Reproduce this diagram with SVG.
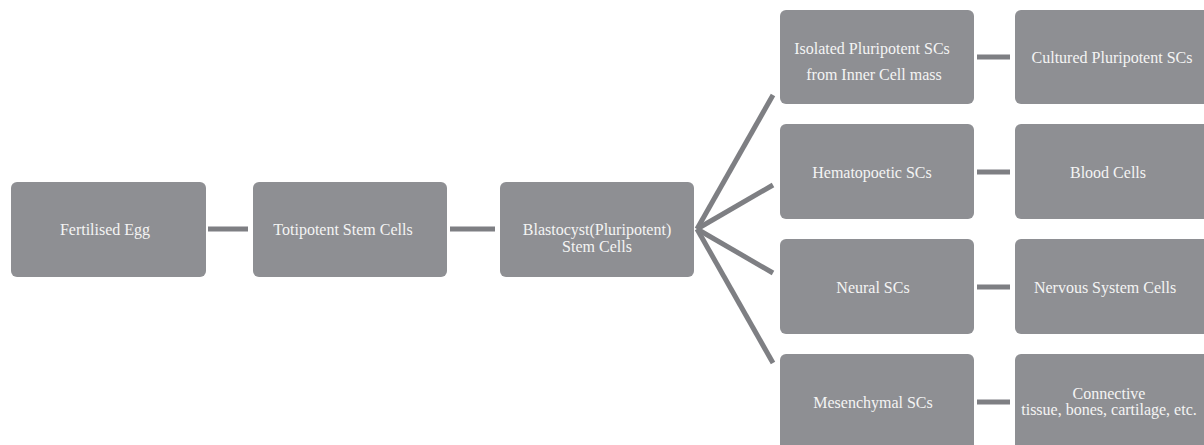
<svg xmlns="http://www.w3.org/2000/svg" width="1204" height="445" viewBox="0 0 1204 445">
<style>
.box{fill:#8e8f93;}
.t{fill:#f4f4f4;font-family:"Liberation Serif","DejaVu Serif",serif;font-size:16px;text-anchor:middle;}
.c{stroke:#7e7f83;stroke-width:5;fill:none;}
</style>
<rect width="1204" height="445" fill="#ffffff"/>
<g id="connectors">
<line class="c" x1="208" y1="229" x2="248" y2="229"/>
<line class="c" x1="450" y1="229" x2="495" y2="229"/>
<line class="c" x1="697" y1="229" x2="773" y2="95"/>
<line class="c" x1="697" y1="229" x2="773" y2="185"/>
<line class="c" x1="697" y1="229" x2="773" y2="273"/>
<line class="c" x1="697" y1="229" x2="773" y2="363"/>
<line class="c" x1="977" y1="57" x2="1010" y2="57"/>
<line class="c" x1="977" y1="172" x2="1010" y2="172"/>
<line class="c" x1="977" y1="287" x2="1010" y2="287"/>
<line class="c" x1="977" y1="402" x2="1010" y2="402"/>
</g>
<g id="fertilised-egg"><rect class="box" x="11" y="182" width="195" height="95" rx="6"/><text class="t" x="105" y="235">Fertilised Egg</text></g>
<g id="totipotent"><rect class="box" x="253" y="182" width="194" height="95" rx="6"/><text class="t" x="343" y="235">Totipotent Stem Cells</text></g>
<g id="blastocyst"><rect class="box" x="500" y="182" width="194" height="95" rx="6"/><text class="t" x="597" y="235">Blastocyst(Pluripotent)</text><text class="t" x="597" y="252">Stem Cells</text></g>
<g id="isolated"><rect class="box" x="780" y="10" width="194" height="94" rx="6"/><text class="t" x="872" y="54">Isolated Pluripotent SCs</text><text class="t" x="874" y="80">from Inner Cell mass</text></g>
<g id="cultured"><rect class="box" x="1015" y="10" width="195" height="94" rx="6"/><text class="t" x="1112" y="63">Cultured Pluripotent SCs</text></g>
<g id="hematopoetic"><rect class="box" x="780" y="124" width="194" height="95" rx="6"/><text class="t" x="872" y="178">Hematopoetic SCs</text></g>
<g id="blood"><rect class="box" x="1015" y="124" width="195" height="95" rx="6"/><text class="t" x="1108" y="178">Blood Cells</text></g>
<g id="neural"><rect class="box" x="780" y="239" width="194" height="95" rx="6"/><text class="t" x="873" y="293">Neural SCs</text></g>
<g id="nervous"><rect class="box" x="1015" y="239" width="195" height="95" rx="6"/><text class="t" x="1105" y="293">Nervous System Cells</text></g>
<g id="mesenchymal"><rect class="box" x="780" y="354" width="194" height="100" rx="6"/><text class="t" x="873" y="408">Mesenchymal SCs</text></g>
<g id="connective"><rect class="box" x="1015" y="354" width="195" height="100" rx="6"/><text class="t" x="1109" y="399">Connective</text><text class="t" x="1109" y="415">tissue, bones, cartilage, etc.</text></g>
</svg>
